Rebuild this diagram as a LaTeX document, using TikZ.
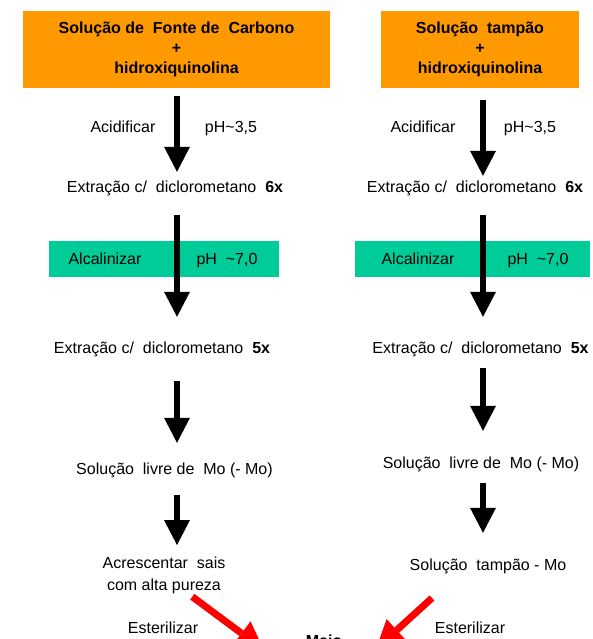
\documentclass[tikz,border=0pt]{standalone}
\usepackage{fontspec}
\setmainfont{Liberation Sans}
\usepackage{xcolor}
\definecolor{cOrange}{HTML}{FF9900}
\definecolor{cGreen}{HTML}{00CC99}
\definecolor{cRed}{HTML}{FF0000}
\usetikzlibrary{arrows.meta}
\newcommand{\lblfont}{\fontsize{16}{20}\selectfont}
\tikzset{
  node-src/.style={fill=cOrange,inner sep=0pt,minimum height=77pt,
    align=center,font=\lblfont\bfseries},
  node-band/.style={fill=cGreen,inner sep=0pt,minimum height=36pt},
  node-txt/.style={inner sep=0pt,font=\lblfont,text height=11pt,text depth=4pt},
  node-txt2/.style={inner sep=0pt,align=center,font=\fontsize{16}{22}\selectfont},
  arrow-blk/.style={-{Triangle[length=25pt,width=26pt,line width=0pt]},
    line width=5.5pt,draw=black},
  arrow-red/.style={-{Triangle[length=28pt,width=30pt,line width=0pt]},
    line width=7pt,draw=cRed},
}

\begin{document}
\begin{tikzpicture}[x=1pt,y=-1pt]
  \useasboundingbox (0,0) rectangle (592,639);
  \coordinate (colL) at (177,0);
  \coordinate (colR) at (483,0);
  % coluna esquerda
  \node[node-src,minimum width=307pt] (srcL) at (176.5,49.5)
    {Solução de~ Fonte de~ Carbono\\+\\hidroxiquinolina};
  \node[node-txt] (acidL) at (123,129) {Acidificar};
  \node[node-txt] (phL) at (231,129) {pH\textasciitilde3,5};
  \node[node-txt] (extL6) at (175,189) {Extração c/~ diclorometano~ \textbf{6x}};
  \node[node-band,minimum width=230pt] (bandL) at (164,259) {};
  \node[node-txt] (alcL) at (105,261) {Alcalinizar};
  \node[node-txt] (phAL) at (227,261) {pH~ \textasciitilde7,0};
  \node[node-txt] (extL5) at (162,350) {Extração c/~ diclorometano~ \textbf{5x}};
  \node[node-txt] (solL) at (174.5,471) {Solução~ livre de~ Mo (-~Mo)};
  \node[node-txt2,anchor=north] (addL) at (164,557) {Acrescentar~ sais\\com alta pureza};
  \node[node-txt] (esterL) at (163,630) {Esterilizar};
  % coluna direita
  \node[node-src,minimum width=198pt] (srcR) at (480,49.5)
    {Solução~ tampão\\+\\hidroxiquinolina};
  \node[node-txt] (acidR) at (423,129) {Acidificar};
  \node[node-txt] (phR) at (530,129) {pH\textasciitilde3,5};
  \node[node-txt] (extR6) at (475,189) {Extração c/~ diclorometano~ \textbf{6x}};
  \node[node-band,minimum width=235pt] (bandR) at (472.5,259) {};
  \node[node-txt] (alcR) at (418,261) {Alcalinizar};
  \node[node-txt] (phAR) at (538,261) {pH~ \textasciitilde7,0};
  \node[node-txt] (extR5) at (480.5,350) {Extração c/~ diclorometano~ \textbf{5x}};
  \node[node-txt] (solR) at (481,465) {Solução~ livre de~ Mo (-~Mo)};
  \node[node-txt] (tampR) at (488,567) {Solução~ tampão - Mo};
  \node[node-txt] (esterR) at (470,630) {Esterilizar};
  \node[inner sep=0pt,font=\lblfont\bfseries,anchor=base] (meio) at (324,646) {Meio};
  % setas
  \draw[arrow-blk,shorten <=8pt,shorten >=9.5pt] (colL |- srcL.south) -- (colL |- extL6.north);
  \draw[arrow-blk,shorten <=18.5pt,shorten >=25.5pt] (colL |- extL6.south) -- (colL |- extL5.north);
  \draw[arrow-blk,shorten <=23.5pt,shorten >=20.5pt] (colL |- extL5.south) -- (colL |- solL.north);
  \draw[arrow-blk,shorten <=16.5pt,shorten >=12pt] (colL |- solL.south) -- (colL |- addL.north);
  \draw[arrow-blk,shorten <=12pt,shorten >=5.5pt] (colR |- srcR.south) -- (colR |- extR6.north);
  \draw[arrow-blk,shorten <=18.5pt,shorten >=25.5pt] (colR |- extR6.south) -- (colR |- extR5.north);
  \draw[arrow-blk,shorten <=10.5pt,shorten >=26.5pt] (colR |- extR5.south) -- (colR |- solR.north);
  \draw[arrow-blk,shorten <=10.5pt,shorten >=26.5pt] (colR |- solR.south) -- (colR |- tampR.north);
  \coordinate (tipL) at (264,650);
  \coordinate (tailR) at (432,598);
  \coordinate (tipR) at (376,649);
  \draw[arrow-red,shorten <=4pt] (addL) -- (tipL);
  \draw[arrow-red] (tailR) -- (tipR);
\end{tikzpicture}
\end{document}
